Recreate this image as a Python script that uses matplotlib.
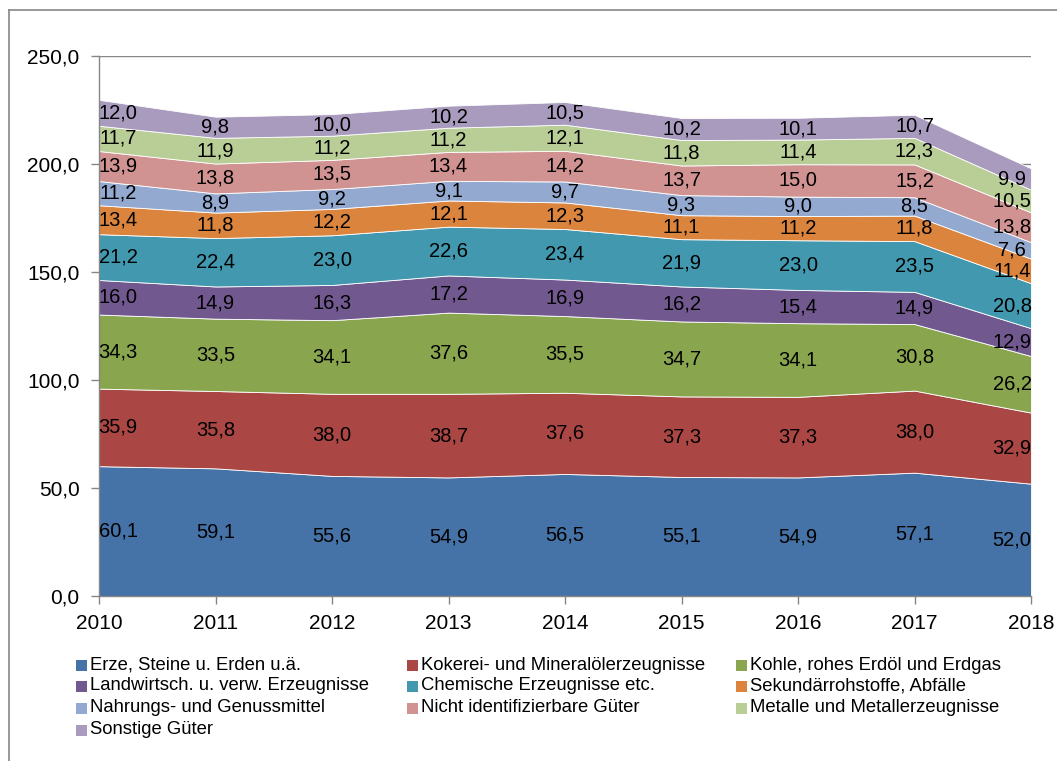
import matplotlib
matplotlib.use("Agg")
import matplotlib.pyplot as plt
from matplotlib.patches import Rectangle
from matplotlib.lines import Line2D
import numpy as np

plt.rcParams['font.family'] = ['Liberation Sans', 'DejaVu Sans']

years = [2010, 2011, 2012, 2013, 2014, 2015, 2016, 2017, 2018]
series_names = [
    "Erze, Steine u. Erden u.ä.",
    "Kokerei- und Mineralölerzeugnisse",
    "Kohle, rohes Erdöl und Erdgas",
    "Landwirtsch. u. verw. Erzeugnisse",
    "Chemische Erzeugnisse etc.",
    "Sekundärrohstoffe, Abfälle",
    "Nahrungs- und Genussmittel",
    "Nicht identifizierbare Güter",
    "Metalle und Metallerzeugnisse",
    "Sonstige Güter",
]
erze = [60.1, 59.1, 55.6, 54.9, 56.5, 55.1, 54.9, 57.1, 52.0]
kokerei = [35.9, 35.8, 38.0, 38.7, 37.6, 37.3, 37.3, 38.0, 32.9]
kohle = [34.3, 33.5, 34.1, 37.6, 35.5, 34.7, 34.1, 30.8, 26.2]
landw = [16.0, 14.9, 16.3, 17.2, 16.9, 16.2, 15.4, 14.9, 12.9]
chemie = [21.2, 22.4, 23.0, 22.6, 23.4, 21.9, 23.0, 23.5, 20.8]
sekundaer = [13.4, 11.8, 12.2, 12.1, 12.3, 11.1, 11.2, 11.8, 11.4]
nahrung = [11.2, 8.9, 9.2, 9.1, 9.7, 9.3, 9.0, 8.5, 7.6]
nicht_ident = [13.9, 13.8, 13.5, 13.4, 14.2, 13.7, 15.0, 15.2, 13.8]
metalle = [11.7, 11.9, 11.2, 11.2, 12.1, 11.8, 11.4, 12.3, 10.5]
sonstige = [12.0, 9.8, 10.0, 10.2, 10.5, 10.2, 10.1, 10.7, 9.9]
yticks = [0, 50, 100, 150, 200, 250]

colors = ["#4572A7", "#AA4643", "#89A54E", "#71588F", "#4198AF",
          "#DB843D", "#93A9CF", "#D19392", "#B9CD96", "#A99BBD"]

data = [erze, kokerei, kohle, landw, chemie, sekundaer, nahrung,
        nicht_ident, metalle, sonstige]

W, H = 1057, 761
fig = plt.figure(figsize=(W / 100, H / 100), dpi=100)

def fx(x):
    return x / W

def fy(y):
    return 1 - y / H

ax = fig.add_axes([fx(99), fy(596), fx(1031) - fx(99), fy(56) - fy(596)])

x = np.arange(len(years))
ax.stackplot(x, *data, colors=colors, edgecolor='white', linewidth=0.6, zorder=2)

ax.set_xlim(0, len(years) - 1)
ax.set_ylim(0, 250)
ax.set_yticks(yticks)
ax.set_yticklabels([f"{v:.1f}".replace('.', ',') for v in yticks], fontsize=15)
ax.set_xticks(x)
ax.set_xticklabels([str(y) for y in years], fontsize=15)
ax.grid(axis='y', color='#868686', linewidth=1, zorder=0)
ax.set_axisbelow(True)
for s in ['top', 'right']:
    ax.spines[s].set_visible(False)
for s in ['left', 'bottom']:
    ax.spines[s].set_color('#868686')
    ax.spines[s].set_linewidth(1)
ax.tick_params(axis='both', colors='#868686', labelcolor='black', length=6, width=1)
ax.tick_params(axis='y', pad=8)
ax.tick_params(axis='x', pad=7)

# data labels
cum = np.zeros(len(years))
for vals in data:
    vals = np.array(vals)
    mids = cum + vals / 2
    for i in range(len(years)):
        off = 0
        if i == 0:
            off = 19
        elif i == len(years) - 1:
            off = -19
        ax.annotate(f"{vals[i]:.1f}".replace('.', ','), (x[i], mids[i]),
                    xytext=(off, 0), textcoords='offset pixels',
                    ha='center', va='center', fontsize=14.5, color='black',
                    zorder=5, annotation_clip=False)
    cum += vals

# outer border (left and top)
fig.add_artist(Line2D([fx(9), fx(9)], [fy(10), 0], transform=fig.transFigure,
                      color='#868686', linewidth=1.2))
fig.add_artist(Line2D([fx(9), 1], [fy(10), fy(10)], transform=fig.transFigure,
                      color='#868686', linewidth=1.2))

# legend (manual, row-major, 3 columns)
col_x = [76, 407, 736]
row_y = [665, 686, 708, 730]
sq = 11
for k, name in enumerate(series_names):
    r, c = divmod(k, 3)
    x0 = col_x[c]
    yc = row_y[r]
    fig.add_artist(Rectangle((fx(x0), fy(yc + sq / 2)), sq / W, sq / H,
                             transform=fig.transFigure, facecolor=colors[k],
                             edgecolor='none'))
    fig.text(fx(x0 + sq + 3), fy(yc), name, fontsize=13.3, va='center',
             ha='left', color='black')

fig.savefig("out.png", dpi=100)
